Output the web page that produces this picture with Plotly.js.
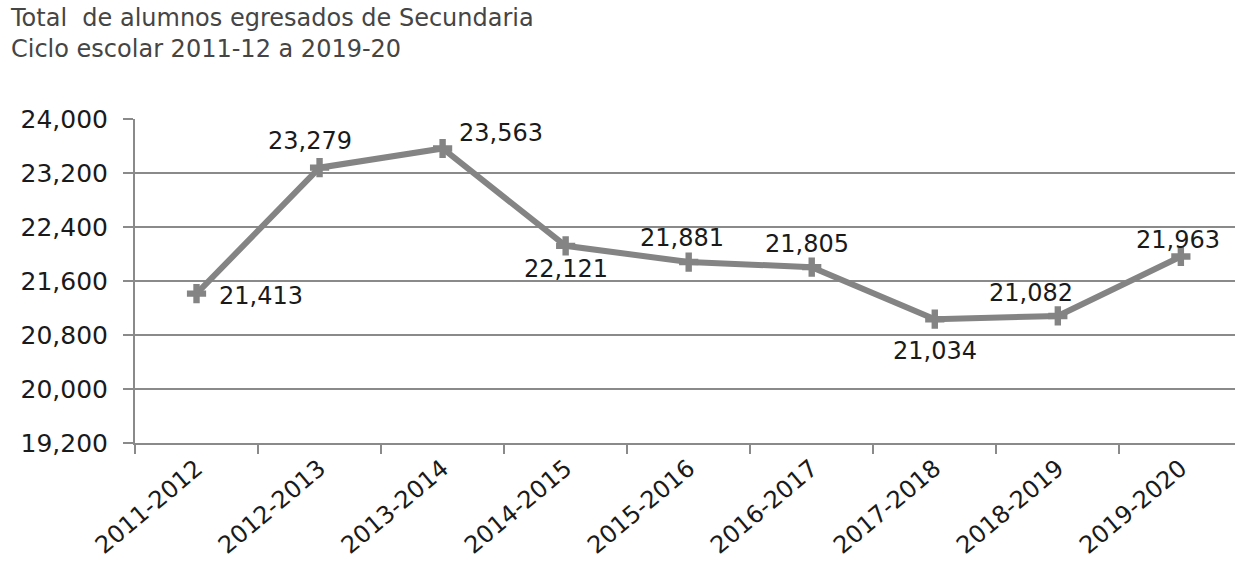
<!DOCTYPE html>
<html><head><meta charset="utf-8">
<script src="https://cdn.plot.ly/plotly-3.0.1.min.js"></script>
<style>html,body{margin:0;padding:0;background:#fff}#c{width:1235px;height:563px}</style>
</head><body><div id="c"></div>
<script>
const categories = ["2011-2012","2012-2013","2013-2014","2014-2015","2015-2016","2016-2017","2017-2018","2018-2019","2019-2020"];
const values = [21413, 23279, 23563, 22121, 21881, 21805, 21034, 21082, 21963];
const labelText = ["21,413","23,279","23,563","22,121","21,881","21,805","21,034","21,082","21,963"];
const yTicks = [19200, 20000, 20800, 21600, 22400, 23200, 24000];
const yTickText = ["19,200","20,000","20,800","21,600","22,400","23,200","24,000"];
const titleLines = ["Total  de alumnos egresados de Secundaria", "Ciclo escolar 2011-12 a 2019-20"];

// label offsets (px) relative to each point: style only
const offX = [64, -10, 58, 0, -7, -5, 0, -27, -3];
const offY = [-2, 27, 16, -23, 24, 23, -32, 23, 17];

const gray = "#848484";
const annotations = categories.map((c, i) => ({
  x: c, y: values[i], xref: "x", yref: "y", text: labelText[i], showarrow: false,
  xshift: offX[i], yshift: offY[i],
  font: {family: "DejaVu Sans", size: 24, color: "#1a1a1a"}
}));
annotations.push({xref: "paper", yref: "paper", x: 0, xshift: -127, y: 1.0, yshift: 54, xanchor: "left", yanchor: "bottom",
  align: "left", text: titleLines.join("<br>"), showarrow: false,
  font: {family: "DejaVu Sans", size: 24, color: "#454545"}});

Plotly.newPlot("c", [{
  x: categories, y: values, type: "scatter", mode: "lines+markers",
  line: {color: gray, width: 6},
  marker: {symbol: "cross", size: 16, color: gray},
  hoverinfo: "skip"
}], {
  width: 1235, height: 563,
  margin: {l: 135, r: 0, t: 119, b: 120},
  paper_bgcolor: "#fff", plot_bgcolor: "#fff",
  showlegend: false,
  xaxis: {
    type: "category", range: [-0.5, 8.44], tickson: "boundaries",
    ticks: "outside", ticklen: 9, tickwidth: 2, tickcolor: "#8a8a8a",
    tickangle: -40, showgrid: false, showline: true, linecolor: "#8a8a8a", linewidth: 2,
    tickfont: {family: "DejaVu Sans", size: 24, color: "#1a1a1a"}, zeroline: false
  },
  yaxis: {
    range: [19200, 24000], tickvals: yTicks, ticktext: yTickText,
    ticks: "outside", ticklen: 10, tickwidth: 2, tickcolor: "#8a8a8a", ticklabelstandoff: 10,
    showgrid: true, gridcolor: "#8a8a8a", gridwidth: 2,
    showline: true, linecolor: "#8a8a8a", linewidth: 2, zeroline: false,
    tickfont: {family: "DejaVu Sans", size: 25, color: "#1a1a1a"}
  },
  annotations: annotations
}, {displayModeBar: false, staticPlot: true});
</script></body></html>
